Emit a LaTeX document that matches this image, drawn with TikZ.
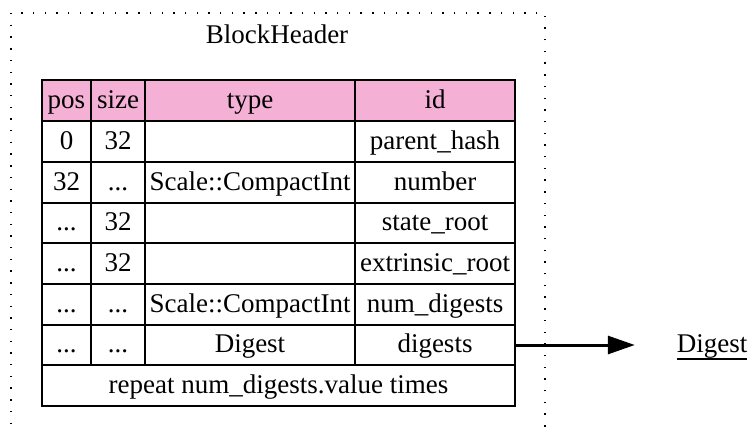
\documentclass[tikz,border=0pt]{standalone}
\usepackage{fontspec}
\setmainfont{Liberation Serif}
\usetikzlibrary{arrows.meta}
\definecolor{hdrpink}{RGB}{245,176,214}
\begin{document}
\begin{tikzpicture}[x=1pt,y=-1pt,
  every node/.style={font=\fontsize{27}{30}\selectfont},
  cell/.style={draw, line width=2pt, minimum height=40.75pt, inner sep=0pt, text height=20pt, text depth=5pt},
  hdr/.style={cell, fill=hdrpink},
  wpos/.style={minimum width=49pt},
  wsize/.style={minimum width=54pt},
  wtype/.style={minimum width=210pt},
  wid/.style={minimum width=160pt},
  wall/.style={minimum width=473pt},
  cluster/.style={draw, line width=1.3pt, dash pattern=on 1.4pt off 10.3pt},
  link/.style={line width=3pt, -{Triangle[length=27pt,width=18pt]}}
]
\useasboundingbox (0,0) rectangle (749,426);
\begin{scope}
\clip (0,0) rectangle (749,426);
\draw[cluster] (11,13) rectangle (545,450);
\end{scope}
\node[anchor=base] (title) at (277,43) {BlockHeader};
% header
\node[hdr,wpos]  (hpos)  at (66.5,100.5) {pos};
\node[hdr,wsize] (hsize) at (118,100.5) {size};
\node[hdr,wtype] (htype) at (250,100.5) {type};
\node[hdr,wid]   (hid)   at (435,100.5) {id};
% row 1
\node[cell,wpos]  (p1) at (66.5,141.5) {0};
\node[cell,wsize] (s1) at (118,141.5) {32};
\node[cell,wtype] (t1) at (250,141.5) {};
\node[cell,wid]   (i1) at (435,141.5) {parent\_hash};
% row 2
\node[cell,wpos]  (p2) at (66.5,182.5) {32};
\node[cell,wsize] (s2) at (118,182.5) {...};
\node[cell,wtype] (t2) at (250,182.5) {Scale::CompactInt};
\node[cell,wid]   (i2) at (435,182.5) {number};
% row 3
\node[cell,wpos]  (p3) at (66.5,223) {...};
\node[cell,wsize] (s3) at (118,223) {32};
\node[cell,wtype] (t3) at (250,223) {};
\node[cell,wid]   (i3) at (435,223) {state\_root};
% row 4
\node[cell,wpos]  (p4) at (66.5,263.5) {...};
\node[cell,wsize] (s4) at (118,263.5) {32};
\node[cell,wtype] (t4) at (250,263.5) {};
\node[cell,wid]   (i4) at (435,263.5) {extrinsic\_root};
% row 5
\node[cell,wpos]  (p5) at (66.5,304.5) {...};
\node[cell,wsize] (s5) at (118,304.5) {...};
\node[cell,wtype] (t5) at (250,304.5) {Scale::CompactInt};
\node[cell,wid]   (i5) at (435,304.5) {num\_digests};
% row 6
\node[cell,wpos]  (p6) at (66.5,345) {...};
\node[cell,wsize] (s6) at (118,345) {...};
\node[cell,wtype] (t6) at (250,345) {Digest};
\node[cell,wid]   (i6) at (435,345) {digests};
% row 7
\node[cell,wall]  (rep) at (278.5,385.5) {repeat num\_digests.value times};
% target
\node[inner sep=0pt, minimum width=154pt, text height=20pt, text depth=5pt] (digest) at (712,345)
  {\rlap{\rule[-7pt]{70.5pt}{1.4pt}}Digest};
\draw[link] (i6.east) -- (digest.west);
\end{tikzpicture}
\end{document}
